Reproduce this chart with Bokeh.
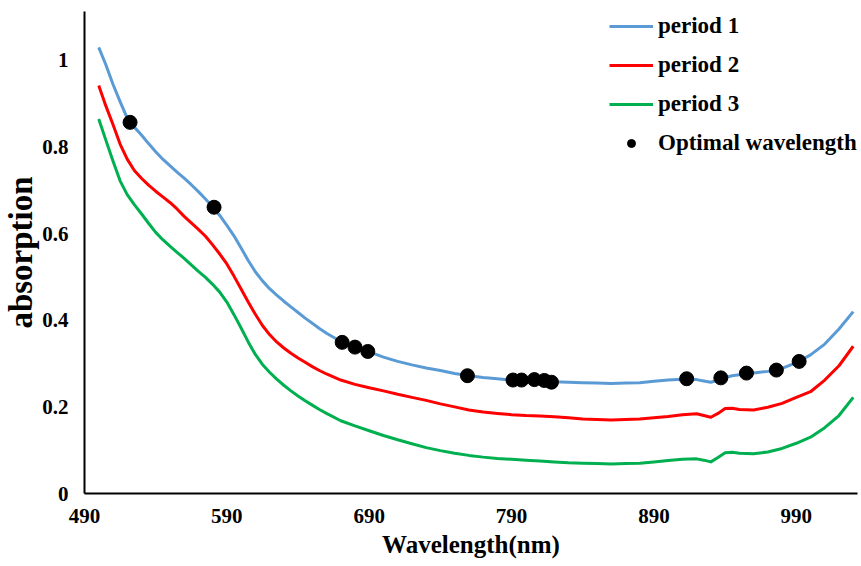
from bokeh.plotting import figure
from bokeh.models import Range1d, FixedTicker, CustomJSTickFormatter, Legend, LegendItem
from bokeh.embed import file_html
from bokeh.resources import INLINE

# ---- data ----
wavelength = [500, 505, 510, 515, 520, 525, 530, 535, 540, 545, 550, 555, 560, 565, 570, 575,
              580, 585, 590, 595, 600, 605, 610, 615, 620, 625, 630, 635, 640, 645, 650, 655,
              660, 670, 680, 690, 700, 710, 720, 730, 740, 750, 760, 770, 780, 790, 800, 810,
              820, 830, 840, 850, 860, 870, 880, 890, 900, 910, 920, 925, 930, 935, 940, 945,
              950, 960, 970, 980, 990, 1000, 1010, 1020, 1030]

period1 = [1.030, 0.990, 0.945, 0.905, 0.867, 0.846, 0.828, 0.808, 0.789, 0.772, 0.757, 0.742, 0.728, 0.713, 0.697, 0.680,
           0.662, 0.642, 0.619, 0.595, 0.567, 0.538, 0.512, 0.491, 0.473, 0.458, 0.444, 0.431, 0.418, 0.405, 0.393, 0.381,
           0.370, 0.351, 0.338, 0.327, 0.315, 0.305, 0.297, 0.290, 0.284, 0.277, 0.272, 0.268, 0.265, 0.262, 0.261, 0.260,
           0.258, 0.257, 0.256, 0.255, 0.254, 0.255, 0.256, 0.259, 0.262, 0.264, 0.263, 0.260, 0.257, 0.262, 0.268, 0.272,
           0.274, 0.278, 0.282, 0.289, 0.302, 0.320, 0.345, 0.380, 0.420]

period2 = [0.942, 0.895, 0.852, 0.807, 0.772, 0.746, 0.728, 0.712, 0.698, 0.685, 0.672, 0.657, 0.640, 0.625, 0.610, 0.594,
           0.574, 0.553, 0.530, 0.502, 0.472, 0.442, 0.414, 0.388, 0.367, 0.350, 0.336, 0.324, 0.313, 0.303, 0.293, 0.284,
           0.276, 0.262, 0.252, 0.244, 0.237, 0.229, 0.222, 0.215, 0.207, 0.200, 0.193, 0.188, 0.185, 0.182, 0.180, 0.179,
           0.177, 0.175, 0.172, 0.171, 0.170, 0.171, 0.172, 0.175, 0.178, 0.182, 0.184, 0.180, 0.176, 0.185, 0.196, 0.197,
           0.194, 0.193, 0.199, 0.208, 0.222, 0.235, 0.262, 0.295, 0.340]

period3 = [0.865, 0.816, 0.768, 0.722, 0.690, 0.667, 0.646, 0.624, 0.603, 0.586, 0.571, 0.557, 0.543, 0.528, 0.513, 0.499,
           0.483, 0.465, 0.442, 0.413, 0.382, 0.350, 0.321, 0.298, 0.280, 0.264, 0.250, 0.237, 0.225, 0.214, 0.204, 0.194,
           0.185, 0.168, 0.156, 0.145, 0.134, 0.124, 0.115, 0.106, 0.099, 0.093, 0.088, 0.084, 0.081, 0.079, 0.077, 0.075,
           0.073, 0.071, 0.070, 0.069, 0.068, 0.069, 0.070, 0.073, 0.076, 0.079, 0.080, 0.077, 0.073, 0.083, 0.094, 0.095,
           0.093, 0.092, 0.096, 0.104, 0.116, 0.130, 0.152, 0.180, 0.222]

optimal_wl = [522, 581, 671, 680, 689, 759, 791, 797, 806, 813, 818, 913, 937, 955, 976, 992]
optimal_abs = [0.857, 0.661, 0.349, 0.338, 0.328, 0.272, 0.262, 0.262, 0.263, 0.261, 0.257,
               0.265, 0.267, 0.278, 0.285, 0.305]

x_ticks = [490, 590, 690, 790, 890, 990]
y_ticks = [0, 0.2, 0.4, 0.6, 0.8, 1.0]

FONT = "Liberation Serif"

p = figure(width=861, height=566, output_backend="svg", toolbar_location=None,
           x_range=Range1d(490, 1033), y_range=Range1d(0, 1.113),
           min_border_left=82, min_border_right=4, min_border_top=11, min_border_bottom=73)
p.outline_line_color = None
p.xgrid.visible = False
p.ygrid.visible = False

r1 = p.line(wavelength, period1, line_color="#5B9BD5", line_width=3, line_join="round")
r2 = p.line(wavelength, period2, line_color="#FF0000", line_width=3, line_join="round")
r3 = p.line(wavelength, period3, line_color="#00B050", line_width=3, line_join="round")
r4 = p.scatter(optimal_wl, optimal_abs, size=14, fill_color="black", line_color="black")

for ax in (p.xaxis[0], p.yaxis[0]):
    ax.axis_line_color = "black"
    ax.axis_line_width = 2
    ax.major_tick_line_color = None
    ax.minor_tick_line_color = None
    ax.major_tick_out = 0
    ax.major_tick_in = 0
    ax.major_label_text_font = FONT
    ax.major_label_text_font_style = "bold"
    ax.major_label_text_font_size = "21px"
    ax.major_label_text_color = "black"
    ax.axis_label_text_font = FONT
    ax.axis_label_text_font_style = "bold"
    ax.axis_label_text_color = "black"

p.xaxis.ticker = FixedTicker(ticks=x_ticks)
p.yaxis.ticker = FixedTicker(ticks=y_ticks)
p.yaxis.formatter = CustomJSTickFormatter(code="return tick.toFixed(1).replace(/\\.0$/, '');")
p.xaxis.major_label_standoff = 15
p.yaxis.major_label_standoff = 16
p.xaxis.axis_label = "Wavelength(nm)"
p.yaxis.axis_label = "absorption"
p.xaxis.axis_label_text_font_size = "25px"
p.yaxis.axis_label_text_font_size = "33px"
p.xaxis.axis_label_standoff = 5
p.yaxis.axis_label_standoff = 0

legend = Legend(items=[
    LegendItem(label="period 1", renderers=[r1]),
    LegendItem(label="period 2", renderers=[r2]),
    LegendItem(label="period 3", renderers=[r3]),
    LegendItem(label="Optimal wavelength", renderers=[r4]),
], location=(525, 337))
legend.background_fill_alpha = 0
legend.border_line_color = None
legend.padding = 0
legend.margin = 0
legend.glyph_width = 44
legend.glyph_height = 20
legend.label_height = 20
legend.spacing = 13
legend.label_standoff = 5
legend.label_text_font = FONT
legend.label_text_font_style = "bold"
legend.label_text_font_size = "23px"
legend.label_text_color = "black"
p.add_layout(legend, "center")

open("out.html", "w").write(file_html(p, INLINE))
